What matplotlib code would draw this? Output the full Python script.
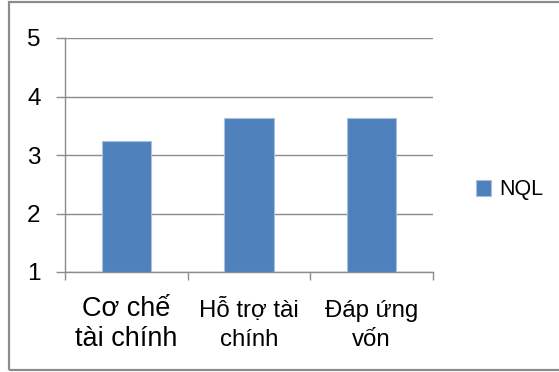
import matplotlib.pyplot as plt
from matplotlib.patches import Rectangle
from matplotlib.transforms import offset_copy

plt.rcParams["font.family"] = ["Liberation Sans", "DejaVu Sans"]

categories = ["Cơ chế\ntài chính", "Hỗ trợ tài\nchính", "Đáp ứng\nvốn"]
nql_values = [3.24, 3.64, 3.64]
y_ticks = [1, 2, 3, 4, 5]

W, H, DPI = 559, 372, 100
fig = plt.figure(figsize=(W / DPI, H / DPI), dpi=DPI)

# outer chart frame (right edge runs off the canvas)
fig.patches.append(Rectangle((9 / W, 2 / H), 1.2, (364 - 2 + 6) / H,
                             transform=fig.transFigure, fill=False,
                             edgecolor="#8c8c8c", linewidth=1.6))

ax = fig.add_axes([65 / W, (H - 272) / H, (433 - 65) / W, (272 - 38) / H])
x = range(len(categories))
ax.bar(x, [v - 1 for v in nql_values], bottom=1, width=0.4,
       color="#4f81bd", edgecolor="#a7c0e0", linewidth=0.8, label="NQL", zorder=3)

ax.set_xlim(-0.5, len(categories) - 0.5)
ax.set_ylim(1, 5)
ax.set_yticks(y_ticks)
ax.yaxis.grid(True, color="#8c8c8c", linewidth=1.0, zorder=0)
for side in ("top", "right"):
    ax.spines[side].set_visible(False)
for side in ("left", "bottom"):
    ax.spines[side].set_color("#8c8c8c")
    ax.spines[side].set_linewidth(1.0)
ax.tick_params(axis="y", direction="out", length=6.5, width=1.0, color="#8c8c8c",
               labelsize=17.5, pad=11)

# category boundaries as major ticks, names centred under each bar
ax.set_xticks([i - 0.5 for i in range(len(categories) + 1)])
ax.set_xticklabels([])
ax.tick_params(axis="x", which="major", direction="out", length=6, width=1.0, color="#8c8c8c")

# last-line baseline 74 px under the axis, all labels share the same rows
label_tr = offset_copy(ax.get_xaxis_transform(), fig=fig, x=0, y=-74, units="dots")
for i, name in enumerate(categories):
    ax.text(i, 0, name, transform=label_tr, ha="center", va="baseline",
            multialignment="center", fontsize=19.5 if i == 0 else 17.3,
            linespacing=1.22 if i == 0 else 1.42)

fig.legend(loc="center left", bbox_to_anchor=(476 / W, (H - 190) / H),
           frameon=False, fontsize=15.5, handlelength=0.7, handleheight=0.7,
           handletextpad=0.37, borderpad=0, borderaxespad=0)

fig.savefig("out.png", dpi=DPI)
